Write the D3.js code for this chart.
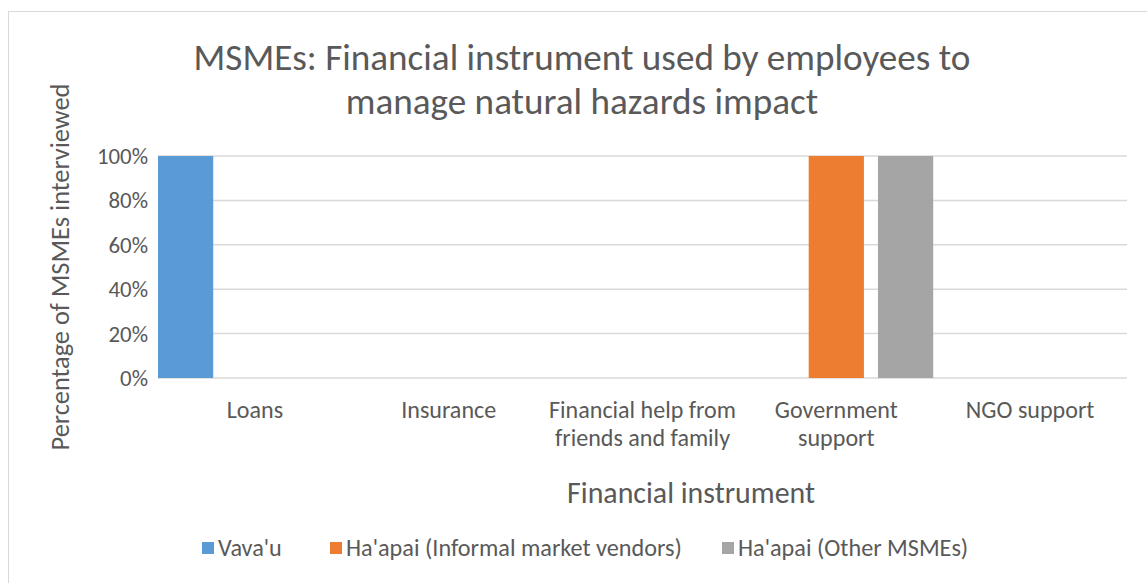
<!DOCTYPE html>
<html><head><meta charset="utf-8">
<script src="https://cdn.jsdelivr.net/npm/d3@7"></script>
<style>body{margin:0;background:#fff}svg{display:block}text{font-family:Carlito,Calibri,Lato,"Open Sans",sans-serif;fill:#595959}</style>
</head><body><svg id="c" width="1147" height="583"></svg>
<script>
const categories = ["Loans","Insurance","Financial help from friends and family","Government support","NGO support"];
const categoryLines = [["Loans"],["Insurance"],["Financial help from","friends and family"],["Government","support"],["NGO support"]];
const seriesNames = ["Vava'u","Ha'apai (Informal market vendors)","Ha'apai (Other MSMEs)"];
const vavau = [100,0,0,0,0];
const haapaiInformal = [0,0,0,100,0];
const haapaiOther = [0,0,0,100,0];
const seriesColors = ["#5b9bd5","#ed7d31","#a5a5a5"];
const yTicks = [0,20,40,60,80,100];
const titleLines = ["MSMEs: Financial instrument used by employees to","manage natural hazards impact"];
const xTitle = "Financial instrument";
const yTitle = "Percentage of MSMEs interviewed";

const series = [vavau, haapaiInformal, haapaiOther];
const svg = d3.select("#c");

function fit(sel, target){
  const base = 20; sel.attr("font-size", base);
  const w = sel.node().getComputedTextLength();
  sel.attr("font-size", base*target/w);
  return base*target/w;
}
function measure(str, target){
  const t = svg.append("text").text(str); const s = fit(t,target); t.remove(); return s;
}

// frame
svg.append("rect").attr("x",8.5).attr("y",11.5).attr("width",1150).attr("height",600)
  .attr("fill","#fff").attr("stroke","#d9d9d9").attr("stroke-width",1);

const x = d3.scaleBand().domain(categories).range([158,1127]).padding(0);
const xs = d3.scaleBand().domain(d3.range(series.length)).range([0,x.bandwidth()]).paddingInner(0.203).paddingOuter(0);
const y = d3.scaleLinear().domain([0,100]).range([378,156]);

// gridlines
svg.append("g").selectAll("line").data(yTicks).join("line")
  .attr("x1",158).attr("x2",1127).attr("y1",d=>y(d)).attr("y2",d=>y(d))
  .attr("stroke","#d9d9d9").attr("stroke-width",1.5);

// bars
const g = svg.append("g");
series.forEach((s,i)=>{
  g.selectAll(null).data(categories.map((c,j)=>({c,v:s[j]}))).join("rect")
    .attr("x",d=>x(d.c)+xs(i)).attr("width",xs.bandwidth())
    .attr("y",d=>y(d.v)).attr("height",d=>y(0)-y(d.v))
    .attr("fill",seriesColors[i]);
});

// x category labels
const catSize = measure("Financial help from",187);
categoryLines.forEach((lines,j)=>{
  lines.forEach((ln,k)=>{
    svg.append("text").attr("x",x(categories[j])+x.bandwidth()/2).attr("y",410+k*28)
      .attr("dy","0.35em").attr("text-anchor","middle").attr("font-size",catSize).text(ln);
  });
});

// y tick labels
const tickSize = catSize*0.95;
svg.append("g").selectAll("text").data(yTicks).join("text")
  .attr("x",148).attr("y",d=>y(d)).attr("dy","0.35em").attr("text-anchor","end")
  .attr("font-size",tickSize).text(d=>d+"%");

// titles
const t1 = svg.append("text").attr("x",582).attr("y",57).attr("dy","0.35em").attr("text-anchor","middle").text(titleLines[0]);
const ts = fit(t1,777);
svg.append("text").attr("x",582).attr("y",101).attr("dy","0.35em").attr("text-anchor","middle").attr("font-size",ts).text(titleLines[1]);

const xt = svg.append("text").attr("x",691).attr("y",493).attr("dy","0.35em").attr("text-anchor","middle").text(xTitle);
fit(xt,248);

const yt = svg.append("text").attr("transform","translate(60,267) rotate(-90)").attr("dy","0.35em").attr("text-anchor","middle").text(yTitle);
fit(yt,367);

// legend
const legSize = measure(seriesNames[1],336);
const legX = [202,330,722];
seriesNames.forEach((n,i)=>{
  svg.append("rect").attr("x",legX[i]).attr("y",542).attr("width",12).attr("height",12).attr("fill",seriesColors[i]);
  svg.append("text").attr("x",legX[i]+16).attr("y",548).attr("dy","0.35em").attr("font-size",legSize).text(n);
});
</script></body></html>
